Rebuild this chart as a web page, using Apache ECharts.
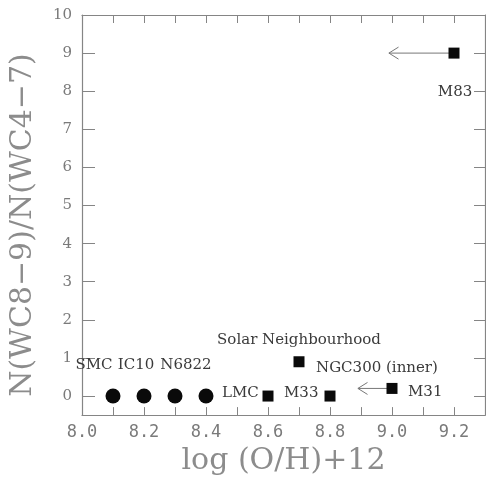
<!DOCTYPE html>
<html>
<head>
<meta charset="utf-8">
<script src="https://cdn.jsdelivr.net/npm/echarts@6/dist/echarts.min.js"></script>
<style>
  html, body { margin: 0; padding: 0; background: #fff; }
  #chart { width: 486px; height: 481px; }
</style>
</head>
<body>
<div id="chart"></div>
<script>
// WC subtype ratio against oxygen abundance for Local Group galaxies
const dwarfNames = ['SMC', 'IC10', 'N6822', 'LMC'];
const dwarfOH = [8.1, 8.2, 8.3, 8.4];
const dwarfRatio = [0, 0, 0, 0];

const spiralNames = ['M33', 'Solar Neighbourhood', 'NGC300 (inner)', 'M31', 'M83'];
const spiralOH = [8.6, 8.7, 8.8, 9.0, 9.2];
const spiralRatio = [0, 0.9, 0, 0.2, 9];

// upper limits on abundance: arrow from the point to the lower value
const limitFrom = [9.0, 9.2];
const limitTo = [8.89, 8.99];
const limitRatio = [0.2, 9];

const xTicks = [8.0, 8.1, 8.2, 8.3, 8.4, 8.5, 8.6, 8.7, 8.8, 8.9, 9.0, 9.1, 9.2, 9.3];
const xTickLabels = [8.0, 8.2, 8.4, 8.6, 8.8, 9.0, 9.2];
const yTicks = [0, 1, 2, 3, 4, 5, 6, 7, 8, 9, 10];

// label placement for each mark (pixel offsets from the symbol centre)
const labelPlace = {
  'SMC': { align: 'center', offset: [-19, -31] },
  'IC10': { align: 'center', offset: [-8, -31] },
  'N6822': { align: 'center', offset: [11, -31] },
  'LMC': { align: 'left', offset: [16, -3] },
  'M33': { align: 'left', offset: [16, -3] },
  'Solar Neighbourhood': { align: 'center', offset: [0, -22] },
  'NGC300 (inner)': { align: 'left', offset: [-14, -28] },
  'M31': { align: 'left', offset: [16, 4] },
  'M83': { align: 'center', offset: [1, 39] }
};

const labelFont = { fontFamily: 'DejaVu Serif', fontSize: 15, color: '#3a3a3a' };
const axisGray = '#858585';

function points(names, xs, ys) {
  return names.map((n, i) => ({
    name: n,
    value: [xs[i], ys[i]],
    label: Object.assign({
      show: true,
      position: 'inside',
      verticalAlign: 'middle',
      formatter: n
    }, labelFont, labelPlace[n])
  }));
}

const chart = echarts.init(document.getElementById('chart'), null, { renderer: 'canvas' });

const fmt = v => (Math.round(v * 10) / 10).toFixed(1);

chart.setOption({
  animation: false,
  backgroundColor: '#fff',
  grid: { left: 82, right: 1, top: 15, bottom: 63 },
  xAxis: [
    {
      type: 'value', position: 'bottom', min: 8.0, max: 9.3,
      name: 'log (O/H)+12', nameLocation: 'middle', nameGap: 29,
      nameTextStyle: { fontFamily: 'DejaVu Serif', fontSize: 30, color: '#8c8c8c' },
      axisLine: { onZero: false, lineStyle: { color: axisGray, width: 1.2 } },
      axisTick: { inside: true, length: 8, customValues: xTicks, lineStyle: { color: axisGray } },
      axisLabel: {
        customValues: xTickLabels, formatter: fmt, margin: 9,
        fontFamily: 'DejaVu Sans Mono', fontSize: 17, color: '#7a7a7a'
      },
      splitLine: { show: false }
    },
    {
      type: 'value', position: 'top', min: 8.0, max: 9.3,
      axisLine: { onZero: false, lineStyle: { color: axisGray, width: 1.2 } },
      axisTick: { inside: true, length: 8, customValues: xTicks, lineStyle: { color: axisGray } },
      axisLabel: { show: false },
      splitLine: { show: false }
    }
  ],
  yAxis: [
    {
      type: 'value', position: 'left', min: -0.5, max: 10,
      name: 'N(WC8\u22129)/N(WC4\u22127)', nameLocation: 'middle', nameGap: 44,
      nameTextStyle: { fontFamily: 'DejaVu Serif', fontSize: 30, color: '#8c8c8c', padding: [0, 20, 0, 0] },
      axisLine: { onZero: false, lineStyle: { color: axisGray, width: 1.2 } },
      axisTick: { inside: true, length: 13, customValues: yTicks, lineStyle: { color: axisGray } },
      axisLabel: {
        customValues: yTicks, margin: 10,
        fontFamily: 'DejaVu Serif', fontSize: 15, color: '#7a7a7a'
      },
      splitLine: { show: false }
    },
    {
      type: 'value', position: 'right', min: -0.5, max: 10,
      axisLine: { onZero: false, lineStyle: { color: axisGray, width: 1.2 } },
      axisTick: { inside: true, length: 11, customValues: yTicks, lineStyle: { color: axisGray } },
      axisLabel: { show: false },
      splitLine: { show: false }
    }
  ],
  series: [
    {
      type: 'custom',
      renderItem: function (params, api) {
        const a = api.coord([api.value(0), api.value(2)]);
        const b = api.coord([api.value(1), api.value(2)]);
        const h = 6;
        return {
          type: 'group',
          children: [
            { type: 'line', shape: { x1: a[0], y1: a[1], x2: b[0], y2: b[1] },
              style: { stroke: '#777', lineWidth: 1 } },
            { type: 'polyline', shape: { points: [[b[0] + h * 1.6, b[1] - h], [b[0], b[1]], [b[0] + h * 1.6, b[1] + h]] },
              style: { stroke: '#777', lineWidth: 1, fill: null } }
          ]
        };
      },
      data: limitFrom.map((x, i) => [x, limitTo[i], limitRatio[i]]),
      z: 1
    },
    {
      type: 'scatter', symbol: 'circle', symbolSize: 15,
      itemStyle: { color: '#0a0a0a', opacity: 1 },
      data: points(dwarfNames, dwarfOH, dwarfRatio),
      z: 3
    },
    {
      type: 'scatter', symbol: 'rect', symbolSize: 11,
      itemStyle: { color: '#0a0a0a', opacity: 1 },
      data: points(spiralNames, spiralOH, spiralRatio),
      z: 3
    }
  ]
});
</script>
</body>
</html>
